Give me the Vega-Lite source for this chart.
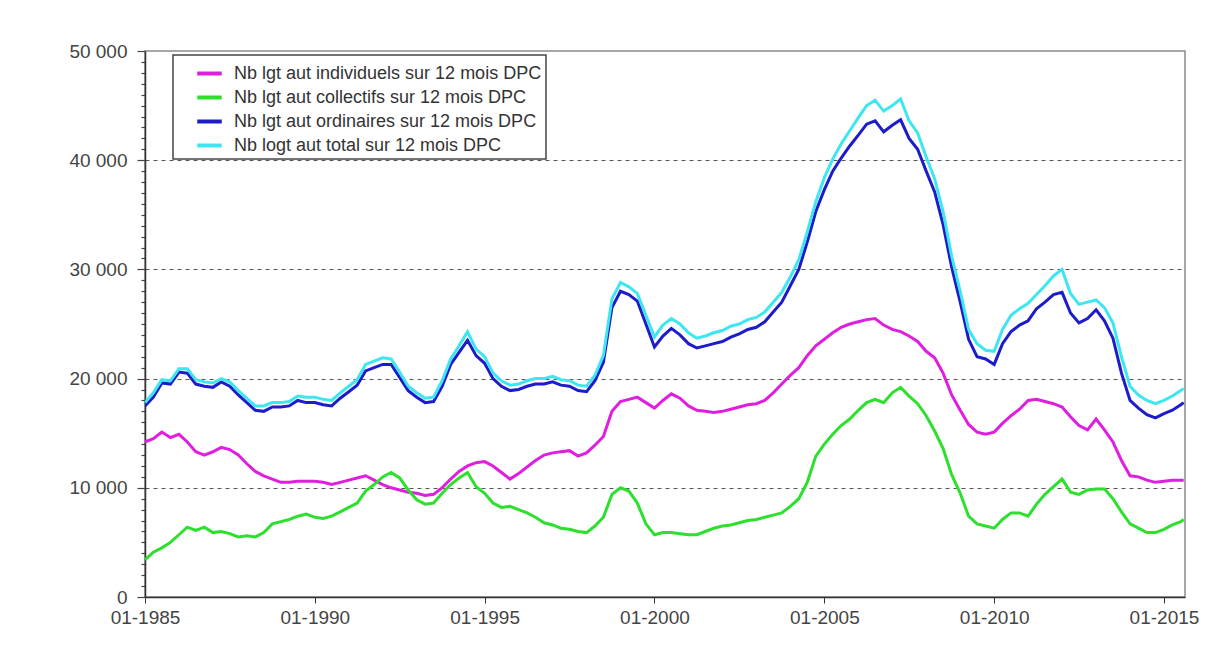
{
 "$schema": "https://vega.github.io/schema/vega-lite/v6.json",
 "width": 1040, "height": 546,
 "autosize": "none",
 "padding": {"left": 145, "top": 51, "right": 24, "bottom": 56},
 "background": "white",
 "config": {"view": {"stroke": "#8a8a8a", "strokeWidth": 1.5}, "font": "Liberation Sans", "legend": {"strokeWidth": 1.5}},
 "data": {"values": [
  {"d":"1985-01-01","ind":14200,"col":3400,"ord":17500,"tot":17800},
  {"d":"1985-04-01","ind":14500,"col":4100,"ord":18300,"tot":18700},
  {"d":"1985-07-01","ind":15100,"col":4500,"ord":19600,"tot":19900},
  {"d":"1985-10-01","ind":14600,"col":5000,"ord":19500,"tot":19800},
  {"d":"1986-01-01","ind":14900,"col":5700,"ord":20600,"tot":20900},
  {"d":"1986-04-01","ind":14200,"col":6400,"ord":20500,"tot":20900},
  {"d":"1986-07-01","ind":13300,"col":6100,"ord":19500,"tot":19900},
  {"d":"1986-10-01","ind":13000,"col":6400,"ord":19300,"tot":19700},
  {"d":"1987-01-01","ind":13300,"col":5900,"ord":19200,"tot":19600},
  {"d":"1987-04-01","ind":13700,"col":6000,"ord":19700,"tot":20000},
  {"d":"1987-07-01","ind":13500,"col":5800,"ord":19300,"tot":19700},
  {"d":"1987-10-01","ind":13000,"col":5500,"ord":18500,"tot":18900},
  {"d":"1988-01-01","ind":12200,"col":5600,"ord":17800,"tot":18200},
  {"d":"1988-04-01","ind":11500,"col":5500,"ord":17100,"tot":17500},
  {"d":"1988-07-01","ind":11100,"col":5900,"ord":17000,"tot":17500},
  {"d":"1988-10-01","ind":10800,"col":6700,"ord":17400,"tot":17800},
  {"d":"1989-01-01","ind":10500,"col":6900,"ord":17400,"tot":17800},
  {"d":"1989-04-01","ind":10500,"col":7100,"ord":17500,"tot":17900},
  {"d":"1989-07-01","ind":10600,"col":7400,"ord":18000,"tot":18400},
  {"d":"1989-10-01","ind":10600,"col":7600,"ord":17800,"tot":18300},
  {"d":"1990-01-01","ind":10600,"col":7300,"ord":17800,"tot":18300},
  {"d":"1990-04-01","ind":10500,"col":7200,"ord":17600,"tot":18100},
  {"d":"1990-07-01","ind":10300,"col":7400,"ord":17500,"tot":18000},
  {"d":"1990-10-01","ind":10500,"col":7800,"ord":18200,"tot":18700},
  {"d":"1991-01-01","ind":10700,"col":8200,"ord":18800,"tot":19300},
  {"d":"1991-04-01","ind":10900,"col":8600,"ord":19400,"tot":19900},
  {"d":"1991-07-01","ind":11100,"col":9700,"ord":20700,"tot":21300},
  {"d":"1991-10-01","ind":10700,"col":10300,"ord":21000,"tot":21600},
  {"d":"1992-01-01","ind":10300,"col":11000,"ord":21300,"tot":21900},
  {"d":"1992-04-01","ind":10000,"col":11400,"ord":21300,"tot":21800},
  {"d":"1992-07-01","ind":9800,"col":10900,"ord":20100,"tot":20600},
  {"d":"1992-10-01","ind":9600,"col":9800,"ord":18900,"tot":19300},
  {"d":"1993-01-01","ind":9500,"col":8900,"ord":18300,"tot":18700},
  {"d":"1993-04-01","ind":9300,"col":8500,"ord":17800,"tot":18200},
  {"d":"1993-07-01","ind":9400,"col":8600,"ord":17900,"tot":18300},
  {"d":"1993-10-01","ind":10000,"col":9500,"ord":19300,"tot":19800},
  {"d":"1994-01-01","ind":10800,"col":10300,"ord":21300,"tot":21800},
  {"d":"1994-04-01","ind":11500,"col":10900,"ord":22400,"tot":23000},
  {"d":"1994-07-01","ind":12000,"col":11400,"ord":23500,"tot":24300},
  {"d":"1994-10-01","ind":12300,"col":10100,"ord":22100,"tot":22700},
  {"d":"1995-01-01","ind":12400,"col":9500,"ord":21400,"tot":22000},
  {"d":"1995-04-01","ind":12000,"col":8600,"ord":20000,"tot":20500},
  {"d":"1995-07-01","ind":11400,"col":8200,"ord":19300,"tot":19800},
  {"d":"1995-10-01","ind":10800,"col":8300,"ord":18900,"tot":19400},
  {"d":"1996-01-01","ind":11300,"col":8000,"ord":19000,"tot":19500},
  {"d":"1996-04-01","ind":11900,"col":7700,"ord":19300,"tot":19800},
  {"d":"1996-07-01","ind":12500,"col":7300,"ord":19500,"tot":20000},
  {"d":"1996-10-01","ind":13000,"col":6800,"ord":19500,"tot":20000},
  {"d":"1997-01-01","ind":13200,"col":6600,"ord":19700,"tot":20200},
  {"d":"1997-04-01","ind":13300,"col":6300,"ord":19400,"tot":19900},
  {"d":"1997-07-01","ind":13400,"col":6200,"ord":19300,"tot":19800},
  {"d":"1997-10-01","ind":12900,"col":6000,"ord":18900,"tot":19400},
  {"d":"1998-01-01","ind":13200,"col":5900,"ord":18800,"tot":19300},
  {"d":"1998-04-01","ind":13900,"col":6500,"ord":19800,"tot":20300},
  {"d":"1998-07-01","ind":14700,"col":7300,"ord":21500,"tot":22100},
  {"d":"1998-10-01","ind":17000,"col":9400,"ord":26500,"tot":27300},
  {"d":"1999-01-01","ind":17900,"col":10000,"ord":28000,"tot":28800},
  {"d":"1999-04-01","ind":18100,"col":9700,"ord":27700,"tot":28400},
  {"d":"1999-07-01","ind":18300,"col":8600,"ord":27100,"tot":27800},
  {"d":"1999-10-01","ind":17800,"col":6700,"ord":25000,"tot":25800},
  {"d":"2000-01-01","ind":17300,"col":5700,"ord":22900,"tot":23800},
  {"d":"2000-04-01","ind":18000,"col":5900,"ord":23900,"tot":24900},
  {"d":"2000-07-01","ind":18600,"col":5900,"ord":24600,"tot":25500},
  {"d":"2000-10-01","ind":18200,"col":5800,"ord":24000,"tot":25000},
  {"d":"2001-01-01","ind":17500,"col":5700,"ord":23200,"tot":24200},
  {"d":"2001-04-01","ind":17100,"col":5700,"ord":22800,"tot":23700},
  {"d":"2001-07-01","ind":17000,"col":6000,"ord":23000,"tot":23900},
  {"d":"2001-10-01","ind":16900,"col":6300,"ord":23200,"tot":24200},
  {"d":"2002-01-01","ind":17000,"col":6500,"ord":23400,"tot":24400},
  {"d":"2002-04-01","ind":17200,"col":6600,"ord":23800,"tot":24800},
  {"d":"2002-07-01","ind":17400,"col":6800,"ord":24100,"tot":25000},
  {"d":"2002-10-01","ind":17600,"col":7000,"ord":24500,"tot":25400},
  {"d":"2003-01-01","ind":17700,"col":7100,"ord":24700,"tot":25600},
  {"d":"2003-04-01","ind":18000,"col":7300,"ord":25200,"tot":26100},
  {"d":"2003-07-01","ind":18700,"col":7500,"ord":26100,"tot":27000},
  {"d":"2003-10-01","ind":19500,"col":7700,"ord":27000,"tot":27900},
  {"d":"2004-01-01","ind":20300,"col":8300,"ord":28500,"tot":29300},
  {"d":"2004-04-01","ind":21000,"col":9000,"ord":30000,"tot":30900},
  {"d":"2004-07-01","ind":22100,"col":10500,"ord":32500,"tot":33400},
  {"d":"2004-10-01","ind":23000,"col":12900,"ord":35300,"tot":36200},
  {"d":"2005-01-01","ind":23600,"col":14000,"ord":37300,"tot":38400},
  {"d":"2005-04-01","ind":24200,"col":14900,"ord":39000,"tot":40100},
  {"d":"2005-07-01","ind":24700,"col":15700,"ord":40200,"tot":41500},
  {"d":"2005-10-01","ind":25000,"col":16300,"ord":41300,"tot":42700},
  {"d":"2006-01-01","ind":25200,"col":17100,"ord":42300,"tot":43900},
  {"d":"2006-04-01","ind":25400,"col":17800,"ord":43300,"tot":45000},
  {"d":"2006-07-01","ind":25500,"col":18100,"ord":43600,"tot":45500},
  {"d":"2006-10-01","ind":24900,"col":17800,"ord":42600,"tot":44500},
  {"d":"2007-01-01","ind":24500,"col":18700,"ord":43200,"tot":45000},
  {"d":"2007-04-01","ind":24300,"col":19200,"ord":43700,"tot":45600},
  {"d":"2007-07-01","ind":23900,"col":18400,"ord":42000,"tot":43600},
  {"d":"2007-10-01","ind":23400,"col":17700,"ord":41000,"tot":42500},
  {"d":"2008-01-01","ind":22500,"col":16600,"ord":39000,"tot":40300},
  {"d":"2008-04-01","ind":21900,"col":15200,"ord":37100,"tot":38300},
  {"d":"2008-07-01","ind":20500,"col":13600,"ord":34100,"tot":35300},
  {"d":"2008-10-01","ind":18500,"col":11200,"ord":30200,"tot":31200},
  {"d":"2009-01-01","ind":17100,"col":9500,"ord":27000,"tot":28000},
  {"d":"2009-04-01","ind":15800,"col":7400,"ord":23600,"tot":24500},
  {"d":"2009-07-01","ind":15100,"col":6700,"ord":22000,"tot":23200},
  {"d":"2009-10-01","ind":14900,"col":6500,"ord":21800,"tot":22600},
  {"d":"2010-01-01","ind":15100,"col":6300,"ord":21300,"tot":22500},
  {"d":"2010-04-01","ind":15900,"col":7100,"ord":23200,"tot":24500},
  {"d":"2010-07-01","ind":16600,"col":7700,"ord":24300,"tot":25800},
  {"d":"2010-10-01","ind":17200,"col":7700,"ord":24900,"tot":26400},
  {"d":"2011-01-01","ind":18000,"col":7400,"ord":25300,"tot":26900},
  {"d":"2011-04-01","ind":18100,"col":8500,"ord":26400,"tot":27700},
  {"d":"2011-07-01","ind":17900,"col":9400,"ord":27000,"tot":28500},
  {"d":"2011-10-01","ind":17700,"col":10100,"ord":27700,"tot":29400},
  {"d":"2012-01-01","ind":17400,"col":10800,"ord":27900,"tot":30000},
  {"d":"2012-04-01","ind":16500,"col":9600,"ord":26000,"tot":27800},
  {"d":"2012-07-01","ind":15700,"col":9400,"ord":25100,"tot":26800},
  {"d":"2012-10-01","ind":15300,"col":9800,"ord":25500,"tot":27000},
  {"d":"2013-01-01","ind":16300,"col":9900,"ord":26300,"tot":27200},
  {"d":"2013-04-01","ind":15300,"col":9900,"ord":25300,"tot":26500},
  {"d":"2013-07-01","ind":14200,"col":9000,"ord":23700,"tot":25100},
  {"d":"2013-10-01","ind":12500,"col":7800,"ord":20500,"tot":22000},
  {"d":"2014-01-01","ind":11100,"col":6700,"ord":18000,"tot":19300},
  {"d":"2014-04-01","ind":11000,"col":6300,"ord":17300,"tot":18500},
  {"d":"2014-07-01","ind":10700,"col":5900,"ord":16700,"tot":18000},
  {"d":"2014-10-01","ind":10500,"col":5900,"ord":16400,"tot":17700},
  {"d":"2015-01-01","ind":10600,"col":6200,"ord":16800,"tot":18000},
  {"d":"2015-04-01","ind":10700,"col":6600,"ord":17100,"tot":18400},
  {"d":"2015-07-01","ind":10700,"col":6900,"ord":17600,"tot":18900},
  {"d":"2015-08-01","ind":10700,"col":7100,"ord":17800,"tot":19100}
 ]},
 "transform": [{"fold": ["ind", "col", "ord", "tot"], "as": ["serie", "v"]}],
 "mark": {"type": "line", "strokeWidth": 3, "clip": true},
 "encoding": {
  "x": {"field": "d", "type": "temporal",
   "scale": {"domain": ["1985-01-01", "2015-08-15"]},
   "axis": {"title": null, "format": "%m-%Y", "values": ["1985-01-01","1990-01-01","1995-01-01","2000-01-01","2005-01-01","2010-01-01","2015-01-01"],
    "grid": false, "domainColor": "#333", "domainWidth": 1.5, "tickColor": "#333", "tickSize": 6,
    "labelFontSize": 19, "labelColor": "#444", "labelPadding": 5, "labelFont": "Liberation Sans", "labelFlush": false}},
  "y": {"field": "v", "type": "quantitative",
   "scale": {"domain": [0, 50000], "nice": false},
   "axis": {"title": null,
    "values": [0,1000,2000,3000,4000,5000,6000,7000,8000,9000,10000,11000,12000,13000,14000,15000,16000,17000,18000,19000,20000,21000,22000,23000,24000,25000,26000,27000,28000,29000,30000,31000,32000,33000,34000,35000,36000,37000,38000,39000,40000,41000,42000,43000,44000,45000,46000,47000,48000,49000,50000],
    "labelExpr": "datum.value % 10000 === 0 ? replace(format(datum.value, ','), ',', ' ') : ''",
    "tickSize": {"condition": {"test": "datum.value % 10000 === 0", "value": 8}, "value": 4},
    "tickColor": "#444", "tickWidth": 1.2,
    "gridColor": "#555", "gridDash": [4, 4], "gridWidth": 1.2,
    "gridOpacity": {"condition": {"test": "datum.value % 10000 === 0 && datum.value > 0 && datum.value < 50000", "value": 1}, "value": 0},
    "domainColor": "#333", "domainWidth": 1.5,
    "labelFontSize": 19, "labelColor": "#444", "labelPadding": 10, "labelFont": "Liberation Sans", "labelFlush": false}},
  "color": {"field": "serie", "type": "nominal",
   "scale": {"domain": ["ind", "col", "ord", "tot"], "range": ["#e01ee0", "#2ee02e", "#1c1cc8", "#3ee6f2"]},
   "legend": {"title": null, "orient": "none", "legendX": 28, "legendY": 4, "direction": "vertical",
    "labelExpr": "datum.label === 'ind' ? 'Nb lgt aut individuels sur 12 mois DPC' : datum.label === 'col' ? 'Nb lgt aut collectifs sur 12 mois DPC' : datum.label === 'ord' ? 'Nb lgt aut ordinaires sur 12 mois DPC' : 'Nb logt aut total sur 12 mois DPC'",
    "labelFontSize": 18, "labelColor": "#333", "labelFont": "Liberation Sans", "labelLimit": 500,
    "symbolType": "stroke", "symbolSize": 600, "symbolStrokeWidth": 4, "symbolOffset": 18,
    "labelOffset": 10, "rowPadding": 0, "padding": 4,
    "strokeColor": "#444", "fillColor": "white"}}
 }
}
